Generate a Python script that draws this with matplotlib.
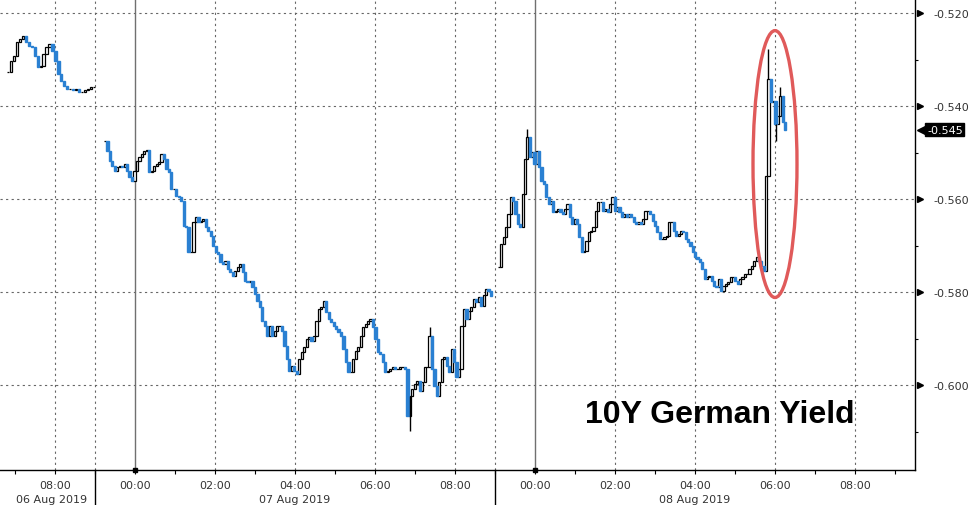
import numpy as np
import matplotlib
matplotlib.use("Agg")
import matplotlib.pyplot as plt
import matplotlib.transforms as mtrans
from matplotlib.patches import Ellipse

# 10Y Bund yield, 5 minute candle closes
aug06_close = [-0.5326, -0.5302, -0.5291, -0.5261, -0.5255, -0.5248, -0.5261, -0.5270, -0.5272, -0.5291,
               -0.5315, -0.5313, -0.5287, -0.5272, -0.5266, -0.5281, -0.5302, -0.5330, -0.5345, -0.5356,
               -0.5362, -0.5362, -0.5364, -0.5362, -0.5369, -0.5369, -0.5364, -0.5362, -0.5358, -0.5358]

aug07_close = [-0.5474, -0.5496, -0.5517, -0.5528, -0.5539, -0.5530, -0.5528, -0.5530, -0.5524, -0.5539,
               -0.5552, -0.5560, -0.5539, -0.5517, -0.5509, -0.5502, -0.5496, -0.5494, -0.5541, -0.5539,
               -0.5528, -0.5524, -0.5519,
               -0.5502, -0.5513, -0.5534, -0.5541, -0.5577, -0.5577, -0.5592, -0.5595, -0.5603, -0.5657,
               -0.5659, -0.5713, -0.5713, -0.5648, -0.5638, -0.5648, -0.5646, -0.5642, -0.5659, -0.5668,
               -0.5678, -0.5700, -0.5713, -0.5717, -0.5734, -0.5739, -0.5732, -0.5749, -0.5756, -0.5765,
               -0.5754, -0.5745, -0.5739, -0.5756, -0.5775, -0.5777, -0.5775, -0.5788, -0.5803, -0.5818,
               -0.5831, -0.5861, -0.5872, -0.5894, -0.5872, -0.5894, -0.5883, -0.5872, -0.5872, -0.5883,
               -0.5915, -0.5943, -0.5969, -0.5958, -0.5969, -0.5975, -0.5943, -0.5928, -0.5917, -0.5900,
               -0.5896, -0.5904, -0.5894, -0.5861, -0.5835,
               -0.5831, -0.5818, -0.5842, -0.5857, -0.5863, -0.5872, -0.5878, -0.5885, -0.5894, -0.5921,
               -0.5949, -0.5971, -0.5971, -0.5943, -0.5926, -0.5917, -0.5894, -0.5874, -0.5868, -0.5861,
               -0.5857, -0.5874, -0.5900, -0.5928, -0.5932, -0.5949, -0.5971, -0.5969, -0.5964, -0.5960,
               -0.5964, -0.5964, -0.5960, -0.5960, -0.5964, -0.6066, -0.6023, -0.6008, -0.5997, -0.5990,
               -0.6012, -0.5992, -0.5960, -0.5960, -0.5894, -0.5964, -0.6001, -0.6023, -0.5992, -0.5943,
               -0.5939, -0.5958, -0.5971, -0.5921, -0.5949, -0.5982, -0.5964, -0.5872, -0.5835, -0.5857,
               -0.5840, -0.5831, -0.5814, -0.5820, -0.5810, -0.5829, -0.5805, -0.5792, -0.5797, -0.5808]

aug08_close = [-0.5745, -0.5696, -0.5681, -0.5659, -0.5631, -0.5595, -0.5603, -0.5631, -0.5653, -0.5659,
               -0.5588, -0.5513, -0.5466, -0.5509, -0.5498, -0.5524, -0.5496, -0.5530, -0.5560, -0.5567,
               -0.5595, -0.5610, -0.5603, -0.5627, -0.5625, -0.5620, -0.5627, -0.5631, -0.5620, -0.5610,
               -0.5638, -0.5653, -0.5642, -0.5653, -0.5681, -0.5713, -0.5711, -0.5689, -0.5670, -0.5668,
               -0.5659, -0.5625, -0.5605, -0.5605, -0.5625, -0.5620, -0.5627, -0.5610, -0.5595, -0.5625,
               -0.5616, -0.5627, -0.5638, -0.5631, -0.5638, -0.5631, -0.5638,
               -0.5648, -0.5653, -0.5648, -0.5653, -0.5642, -0.5625, -0.5625, -0.5631, -0.5646, -0.5657,
               -0.5670, -0.5685, -0.5685, -0.5681, -0.5678, -0.5648, -0.5648, -0.5668, -0.5678, -0.5674,
               -0.5668, -0.5670, -0.5685, -0.5691, -0.5700, -0.5713, -0.5724, -0.5728, -0.5734, -0.5749,
               -0.5771, -0.5767, -0.5765, -0.5775, -0.5786, -0.5788, -0.5771, -0.5797, -0.5786, -0.5782,
               -0.5777, -0.5767, -0.5767, -0.5775, -0.5782, -0.5771, -0.5767, -0.5760, -0.5760, -0.5749,
               -0.5743, -0.5732, -0.5724, -0.5732, -0.5743, -0.5754, -0.5549, -0.5341, -0.5390, -0.5388,
               -0.5438, -0.5420, -0.5377, -0.5433, -0.5450]

sessions = [aug06_close, aug07_close, aug08_close]
# first / last candle of each session on a compressed hour axis (0 = 07 Aug 00:00)
session_span = [(-3.175, -1.025), (-0.75, 8.9), (9.1, 16.25)]

# wicks worth drawing: (session, candle, extreme value)
wicks = [(1, 124, -0.6098), (1, 132, -0.5874), (2, 114, -0.5276), (2, 117, -0.5474),
         (2, 119, -0.5358), (2, 12, -0.5448)]

hour_ticks = list(range(-3, 20))
label_hours = [-2, 0, 2, 4, 6, 8, 10, 12, 14, 16, 18]
label_text = ["08:00", "00:00", "02:00", "04:00", "06:00", "08:00",
              "00:00", "02:00", "04:00", "06:00", "08:00"]
date_pos = [-2.08, 4, 14]
date_text = ["06 Aug 2019", "07 Aug 2019", "08 Aug 2019"]
day_breaks = [-1, 9]
midnights = [0, 10]
grid_hours = [-2, -1, 2, 4, 6, 8, 9, 12, 14, 16, 18]

y_major = [-0.52, -0.54, -0.56, -0.58, -0.60]
y_minor = [-0.53, -0.55, -0.57, -0.59, -0.61]
y_labels = ["-0.520", "-0.540", "-0.560", "-0.580", "-0.600"]
last_price = -0.545

blue = "#2a80d2"
txt = "#333333"

fig = plt.figure(figsize=(9.76, 5.06), dpi=100)
ax = fig.add_axes([0, 35 / 506, 915 / 976, 471 / 506])
ax.set_xlim(-3.375, 19.5)
ax.set_ylim(-0.6182, -0.5169)

# grid
dots = dict(color="#666666", lw=0.8, ls=(0, (2, 3)), zorder=0)
for y in y_major:
    ax.axhline(y, **dots)
for h in grid_hours:
    ax.axvline(h, **dots)
for h in midnights:
    ax.axvline(h, color="#707070", lw=1.0, zorder=0)

# candles: open = previous close
for k, closes in enumerate(sessions):
    c = np.array(closes)
    o = np.r_[c[0], c[:-1]]
    t = np.linspace(session_span[k][0], session_span[k][1], len(c))
    up = c >= o
    w = 0.055
    ax.bar(t[up], (c - o)[up], bottom=o[up], width=w, color="white",
           edgecolor="black", lw=0.9, zorder=3)
    ax.bar(t[~up], (c - o)[~up], bottom=o[~up], width=w, color=blue,
           edgecolor=blue, lw=1.0, zorder=3)
    for s, i, v in wicks:
        if s == k:
            ax.vlines(t[i], v, c[i], color="black", lw=1.0, zorder=4)

# red ellipse around the spike
ax.add_patch(Ellipse((16.0, -0.5524), 1.1, 0.0574, fill=False,
                     ec="#e05a5a", lw=2.4, zorder=5))

ax.text(0.787, 0.118, "10Y German Yield", transform=ax.transAxes,
        ha="center", va="center", fontsize=23, fontweight="bold",
        family="Liberation Sans", color="black")

# spines
for s in ["left", "top"]:
    ax.spines[s].set_visible(False)
ax.spines["right"].set_linewidth(1.0)
ax.spines["bottom"].set_linewidth(1.0)

# y axis on the right
ax.yaxis.tick_right()
ax.set_yticks(y_major)
ax.set_yticklabels(y_labels)
ax.set_yticks(y_minor, minor=True)
ax.tick_params(axis="y", which="major", length=0, pad=13, labelsize=8, labelcolor=txt)
ax.tick_params(axis="y", which="minor", length=2.5, width=0.8, direction="out")

yb = mtrans.blended_transform_factory(ax.transAxes, ax.transData)
ax.plot([1.0] * len(y_major), y_major, ls="none", marker=">", ms=5, color="black",
        transform=mtrans.offset_copy(yb, fig=fig, x=5, y=0, units="dots"), clip_on=False)

# last price tag
ax.plot([1.0], [last_price], ls="none", marker="<", ms=9, color="black",
        transform=mtrans.offset_copy(yb, fig=fig, x=8, y=0, units="dots"), clip_on=False)
ax.annotate("-0.545", xy=(1.0, last_price), xycoords=yb, xytext=(12, 0),
            textcoords="offset pixels", ha="left", va="center", fontsize=8,
            color="white", bbox=dict(boxstyle="square,pad=0.15", fc="black", ec="black"))

# x axis
ax.set_xticks(label_hours)
ax.set_xticklabels(label_text)
ax.set_xticks([h for h in hour_ticks if h not in label_hours], minor=True)
ax.tick_params(axis="x", which="both", length=3, width=0.8, direction="out",
               labelsize=8, labelcolor=txt, pad=4)

xb = mtrans.blended_transform_factory(ax.transData, ax.transAxes)
for p, s in zip(date_pos, date_text):
    ax.annotate(s, xy=(p, 0), xycoords=xb, xytext=(0, -29), textcoords="offset pixels",
                ha="center", va="center", fontsize=8, color=txt)
for h in day_breaks:
    ax.plot([h, h], [0, -35 / 471], color="black", lw=1.0, transform=xb, clip_on=False)
for h in midnights:
    ax.plot([h], [0], marker="s", ms=2.5, color="black", transform=xb, clip_on=False)

fig.savefig("out.png", dpi=100)
